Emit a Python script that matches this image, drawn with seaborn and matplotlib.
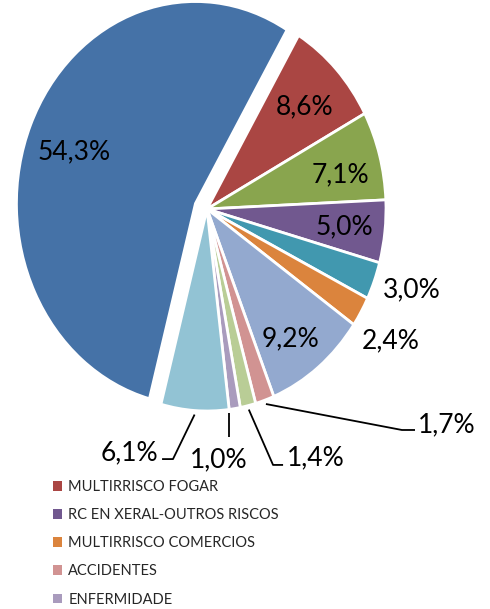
import numpy as np
import matplotlib
matplotlib.use("Agg")
import matplotlib.pyplot as plt
import seaborn as sns
from matplotlib.patches import Patch

# values in slice order (clockwise), Excel style colours
shares = [54.3, 8.6, 7.1, 5.0, 3.0, 2.4, 9.2, 1.7, 1.4, 1.0, 6.1]
colors = ["#4572A7", "#AA4643", "#89A54E", "#71588F", "#4198AF", "#DB843D",
          "#93A9CF", "#D19392", "#B9CD96", "#A99BBD", "#92C3D4"]
explode = [0.07, 0, 0, 0, 0, 0, 0, 0, 0, 0, 0]

# only every other series name is visible in the legend
legend_idx = [1, 3, 5, 7, 9]
legend_names = ["MULTIRRISCO FOGAR", "RC EN XERAL-OUTROS RISCOS",
                "MULTIRRISCO COMERCIOS", "ACCIDENTES", "ENFERMIDADE"]

sns.set_theme(style="white")
plt.rcParams["font.family"] = ["Lato", "DejaVu Sans"]

W, H = 490, 609
fig = plt.figure(figsize=(W / 100, H / 100), dpi=100)
ax = fig.add_axes([0, 0, 1, 1])

wedges, _ = ax.pie(shares, colors=colors, explode=explode, startangle=-104.9,
                   counterclock=False,
                   wedgeprops=dict(edgecolor="white", linewidth=2))

# pie centre at (207, 209) px, radius 179 px wide and 202 px tall
cx, cy, rx, ry = 207, 209, 179, 202
ax.set_aspect("auto")
ax.set_xlim(-cx / rx, (W - cx) / rx)
ax.set_ylim(-(H - cy) / ry, cy / ry)
ax.axis("off")

def fmt(v):
    return f"{v:.1f}".replace(".", ",") + "%"

def point(i, r):
    w = wedges[i]
    a = np.deg2rad((w.theta1 + w.theta2) / 2)
    return w.center[0] + r * np.cos(a), w.center[1] + r * np.sin(a)

fs = 19
# plain labels (inside or just outside the slice)
plain_pos = {0: (-0.743, 0.282), 1: (0.547, 0.505), 2: (0.743, 0.168),
             3: (0.765, -0.089), 6: (0.464, -0.644),
             4: (1.145, -0.401), 5: (1.028, -0.653)}
for i, (x, y) in plain_pos.items():
    ax.text(x, y, fmt(shares[i]), ha="center", va="center", fontsize=fs, color="black")

# labels with leader lines: (index, elbow, end of line, text pos, align)
leaders = [
    (7, (1.089, -1.094), 1.162, (1.179, -1.068), "left"),
    (8, (0.369, -1.267), 0.425, (0.447, -1.232), "left"),
    (9, (0.123, -1.129), None, (0.067, -1.242), "center"),
    (10, (-0.19, -1.238), -0.251, (-0.27, -1.205), "right"),
]
for i, elbow, xend, tpos, ha in leaders:
    x0, y0 = point(i, 1.02)
    if i == 9:
        xs, ys = [elbow[0], elbow[0]], [y0, elbow[1]]
    else:
        xs, ys = [x0, elbow[0], xend], [y0, elbow[1], elbow[1]]
    ax.plot(xs, ys, color="black", lw=1.3, solid_capstyle="butt")
    ax.text(tpos[0], tpos[1], fmt(shares[i]), ha=ha, va="center", fontsize=fs, color="black")

handles = [Patch(facecolor=colors[i], edgecolor="none") for i in legend_idx]
fig.legend(handles, legend_names, loc="upper left",
           bbox_to_anchor=(53 / W, 1 - 480 / H), frameon=False,
           fontsize=10.5, handlelength=0.65, handleheight=0.65, handletextpad=0.4,
           labelspacing=0.97, borderpad=0, borderaxespad=0, labelcolor="#262626")

fig.savefig("out.png", dpi=100)
